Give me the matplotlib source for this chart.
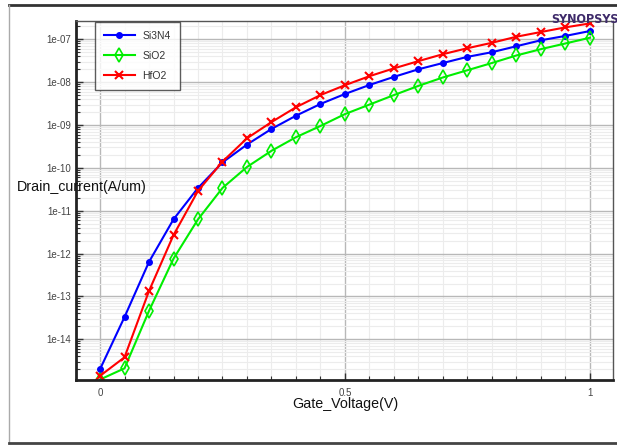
import matplotlib
matplotlib.use("Agg")
import matplotlib.pyplot as plt
from matplotlib.lines import Line2D
from matplotlib.ticker import LogLocator, MultipleLocator, FixedLocator, NullFormatter

# gate voltage sweep (V)
gate_voltage = [0.0, 0.05, 0.1, 0.15, 0.2, 0.25, 0.3, 0.35, 0.4, 0.45, 0.5,
                0.55, 0.6, 0.65, 0.7, 0.75, 0.8, 0.85, 0.9, 0.95, 1.0]

# drain current (A/um) for each gate dielectric
si3n4 = [2.0e-15, 3.3e-14, 6.4e-13, 6.3e-12, 3.4e-11, 1.34e-10, 3.5e-10, 8.1e-10,
         1.65e-9, 3.1e-9, 5.3e-9, 8.6e-9, 1.33e-8, 2.0e-8, 2.8e-8, 3.9e-8,
         5.0e-8, 6.9e-8, 9.5e-8, 1.2e-7, 1.56e-7]
sio2 = [1.15e-15, 2.1e-15, 4.6e-14, 7.6e-13, 6.3e-12, 3.4e-11, 1.05e-10, 2.5e-10,
        5.2e-10, 9.5e-10, 1.8e-9, 3.0e-9, 5.0e-9, 8.2e-9, 1.29e-8, 1.9e-8,
        2.8e-8, 4.2e-8, 5.9e-8, 8.0e-8, 1.09e-7]
hfo2 = [1.4e-15, 3.8e-15, 1.34e-13, 2.7e-12, 2.9e-11, 1.4e-10, 4.9e-10, 1.17e-9,
        2.6e-9, 5.0e-9, 8.5e-9, 1.38e-8, 2.1e-8, 3.1e-8, 4.5e-8, 6.2e-8,
        8.3e-8, 1.15e-7, 1.48e-7, 1.9e-7, 2.35e-7]

y_ticks = [1e-14, 1e-13, 1e-12, 1e-11, 1e-10, 1e-9, 1e-8, 1e-7]
y_tick_labels = ["1e-14", "1e-13", "1e-12", "1e-11", "1e-10", "1e-09", "1e-08", "1e-07"]
x_ticks = [0, 0.5, 1]
x_tick_labels = ["0", "0.5", "1"]

plt.rcParams["font.family"] = ["Liberation Sans", "DejaVu Sans"]

W, H = 617, 445
fig = plt.figure(figsize=(W / 100, H / 100), dpi=100)
ax = fig.add_axes([76 / W, 1 - 380 / H, (613 - 76) / W, (380 - 21) / H])

ax.plot(gate_voltage, si3n4, color="#0000ff", lw=1.5, marker="o", ms=4,
        label="Si3N4")
ax.plot(gate_voltage, sio2, color="#00ee00", lw=1.5, marker="d", ms=7,
        mfc="none", mew=1.2, label="SiO2")
ax.plot(gate_voltage, hfo2, color="#ff0000", lw=1.5, marker="x", ms=6,
        mew=1.5, label="HfO2")

ax.set_yscale("log")
ax.set_xlim(-0.049, 1.047)
ax.set_ylim(10 ** -14.95, 10 ** -6.573)

ax.yaxis.set_major_locator(FixedLocator(y_ticks))
ax.set_yticklabels(y_tick_labels)
ax.yaxis.set_minor_locator(LogLocator(base=10, subs=range(2, 10), numticks=30))
ax.yaxis.set_minor_formatter(NullFormatter())
ax.xaxis.set_major_locator(FixedLocator(x_ticks))
ax.set_xticklabels(x_tick_labels)
ax.xaxis.set_minor_locator(MultipleLocator(0.05))

ax.tick_params(which="both", direction="in", colors="#333333", labelcolor="#444444",
               labelsize=7)
ax.tick_params(which="major", length=5, width=1)
ax.tick_params(which="minor", length=3, width=0.8)
ax.tick_params(axis="x", pad=6)

ax.grid(which="major", color="#b8b8b8", lw=1)
ax.grid(which="minor", color="#ececec", lw=0.8)
ax.set_axisbelow(True)

for side in ["left", "bottom"]:
    ax.spines[side].set_linewidth(2)
    ax.spines[side].set_color("#222222")
for side in ["top", "right"]:
    ax.spines[side].set_linewidth(1)
    ax.spines[side].set_color("#555555")

leg = ax.legend(loc="upper left", bbox_to_anchor=((95 - 76) / (613 - 76), 0.997),
                fontsize=7.5, frameon=True, fancybox=False, handlelength=3.0,
                handletextpad=0.7, borderpad=0.85, labelspacing=0.95,
                borderaxespad=0)
leg.get_frame().set_edgecolor("#333333")
leg.get_frame().set_linewidth(1)
for t in leg.get_texts():
    t.set_color("#333333")

fig.text(17 / W, 1 - 187 / H, "Drain_current(A/um)", fontsize=10.3, ha="left",
         va="center", color="#111111")
fig.text(345 / W, 1 - 404 / H, "Gate_Voltage(V)", fontsize=10.3, ha="center",
         va="center", color="#111111")

# outer frame of the plot window
fig.add_artist(Line2D([9 / W, 1], [1 - 5 / H, 1 - 5 / H], color="#333333", lw=2))
fig.add_artist(Line2D([9 / W, 9 / W], [1 - 5 / H, 1 - 443 / H], color="#aaaaaa", lw=1))
fig.add_artist(Line2D([9 / W, 1], [1 - 443 / H, 1 - 443 / H], color="#444444", lw=2))

fig.text(551 / W, 1 - 23 / H, "SYNOPSYS", fontsize=9, color="#3e2a6a",
         family="DejaVu Sans", stretch="condensed", weight="bold",
         ha="left", va="baseline")

fig.savefig("out.png", dpi=100)
